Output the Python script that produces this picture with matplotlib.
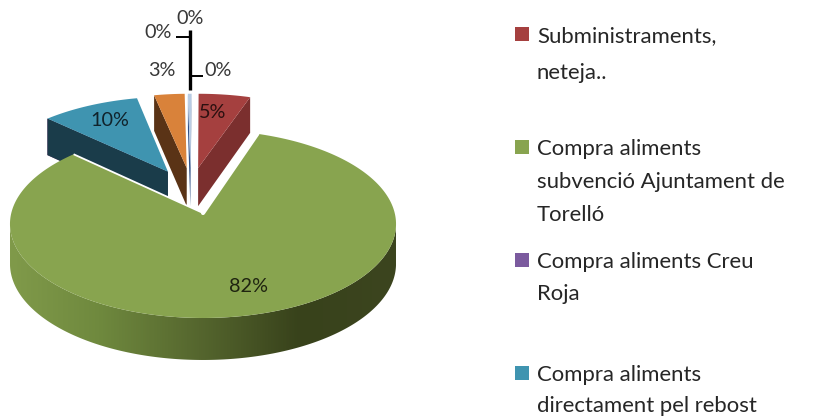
import numpy as np
import matplotlib
matplotlib.use("Agg")
import matplotlib.pyplot as plt
from matplotlib.patches import Polygon, Rectangle
from matplotlib.colors import LinearSegmentedColormap

# ---- data ----
values = [5.1, 81.9, 0.04, 9.6, 3.0, 0.32, 0.04]
legend_labels = ["Subministraments,\nneteja..",
                 "Compra aliments\nsubvenció Ajuntament de\nTorelló",
                 "Compra aliments Creu\nRoja",
                 "Compra aliments\ndirectament pel rebost"]

# ---- style ----
top_colors = ["#A5403F", "#88A44F", "#7B5A9E", "#3F94B0", "#D9823A", "#B8CCE4", "#A8BCD8"]
side_colors = ["#7B2F2E", None, "#4A3560", "#1A3C4A", "#5A3316", "#2F4F86", "#2F4F86"]
# which radial edge shows its cut face: 0 = leading, 1 = trailing
face_edge = [1, None, 0, 0, 0, 0, 0]
# explosion of each slice in the plane of the pie
offsets = [(-0.027, 0.514), (0, 0), (-0.193, 0.47), (-0.193, 0.47),
           (-0.09, 0.514), (-0.07, 0.514), (-0.07, 0.514)]
draw_order = [2, 6, 3, 4, 5, 0]
label_pos = [(213, 113), (249, 287), (218, 70), (110, 120), (162, 71), (158, 32), (190, 18)]
label_color = ["#2b1010", "#1f2410", "#383838", "#10232b", "#383838", "#383838", "#383838"]
legend_colors = ["#A5403F", "#88A44F", "#7B5A9E", "#3F94B0"]
legend_y = [34, 147, 260, 373]
legend_spacing = [2.05, 1.8, 1.72, 1.68]

CX, CY, R, RY, K = 203, 213, 191.7, 92.7, 0.117
FONT = "Lato"


def project(u, v):
    w = 1 + K * v
    return CX + R * u / w, CY - RY * v / w, w


def depth(w):
    return 42 - 22 * (w - 0.883)


def wedge(t0, t1, off, n=60):
    t = np.linspace(t0, t1, n)
    return np.sin(t) + off[0], np.cos(t) + off[1]


fig = plt.figure(figsize=(8.16, 4.2), dpi=100)
ax = fig.add_axes([0, 0, 1, 1])
ax.axis("off")

edges = np.radians(np.concatenate([[0], np.cumsum(values)]) * 3.6)

for i in draw_order:
    t0, t1 = edges[i], edges[i + 1]
    off = offsets[i]
    a = project(*off)
    u, v = wedge(t0, t1, off)
    x, y, w = project(u, v)
    j = -1 if face_edge[i] == 1 else 0
    face = [(a[0], a[1]), (x[j], y[j]), (x[j], y[j] + depth(w[j])), (a[0], a[1] + depth(a[2]))]
    ax.add_patch(Polygon(face, closed=True, fc=side_colors[i], ec="none", zorder=2))
    pts = [(a[0], a[1])] + list(zip(x, y))
    ax.add_patch(Polygon(pts, closed=True, fc=top_colors[i], ec="none", zorder=2))

# main slice: rim with a horizontal gradient, then the top
t0, t1 = edges[1], edges[2]
u, v = wedge(t0, t1, (0, 0), 360)
x, y, w = project(u, v)
d = depth(w)
rim_cmap = LinearSegmentedColormap.from_list(
    "rim", [(0.0, "#809A4A"), (0.23, "#6F893E"), (0.49, "#55662E"),
            (0.75, "#38421B"), (1.0, "#3C451F")])
i0, i1 = int(np.argmax(x)), int(np.argmin(x))
xn, yn, dn = x[i0:i1 + 1], y[i0:i1 + 1], d[i0:i1 + 1]
rim_poly = Polygon(list(zip(xn, yn)) + list(zip(xn[::-1], (yn + dn)[::-1])), closed=True,
                   fc="none", ec="none", transform=ax.transData)
ax.add_patch(rim_poly)
img = ax.imshow(np.linspace(0, 1, 400)[None, :], cmap=rim_cmap, aspect="auto",
                extent=(10, 396, 420, 0), zorder=3)
img.set_clip_path(rim_poly)
ax.add_patch(Polygon([(CX, CY)] + list(zip(x, y)), closed=True, fc=top_colors[1], ec="none", zorder=4))
ax.plot([x[0], CX], [y[0], CY], color="white", lw=3.0, zorder=5, solid_capstyle="round")
ax.plot([x[-1], CX], [y[-1], CY], color="white", lw=1.3, zorder=5, solid_capstyle="butt")

ax.set_xlim(0, 816)
ax.set_ylim(420, 0)

# leader lines
ax.plot([190, 190], [30, 90], color="black", lw=2.4, zorder=6, solid_capstyle="butt")
ax.plot([176, 190], [37, 37], color="black", lw=1.4, zorder=6, solid_capstyle="butt")
ax.plot([190, 203], [76, 76], color="black", lw=1.4, zorder=6, solid_capstyle="butt")

# data labels
for val, (lx, ly), c in zip(values, label_pos, label_color):
    ax.text(lx, ly, f"{round(val)}%", ha="center", va="center", fontsize=14.3,
            family=FONT, color=c, zorder=7)

# legend
for lab, ly, c, sp in zip(legend_labels, legend_y, legend_colors, legend_spacing):
    ax.add_patch(Rectangle((515, ly - 7), 14, 14, fc=c, ec="none", zorder=6))
    ax.text(537, ly - 8, lab, ha="left", va="top", fontsize=15.9, family=FONT,
            color="#262626", linespacing=sp, zorder=7)

fig.savefig("out.png", dpi=100)
